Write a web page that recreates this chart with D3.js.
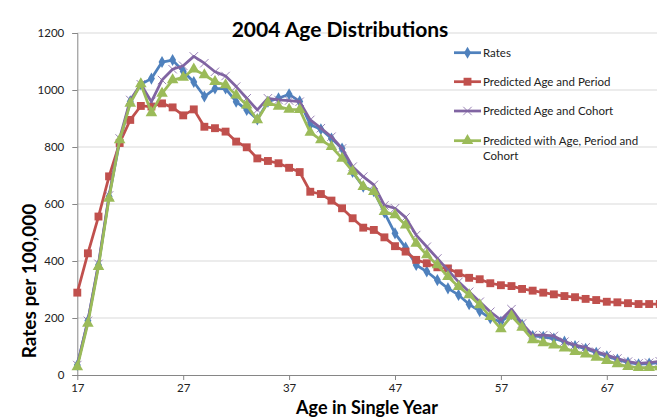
<!DOCTYPE html>
<html>
<head>
<meta charset="utf-8">
<script src="https://cdn.jsdelivr.net/npm/d3@7"></script>
<style>
  html, body { margin: 0; padding: 0; background: #fff; }
  svg { display: block; font-family: Lato, "Open Sans", sans-serif; }
</style>
</head>
<body>
<svg id="chart" width="657" height="419"></svg>
<script>
// Ages shown on the category axis
const ages = d3.range(17, 73);
const tickAges = [17, 27, 37, 47, 57, 67];
const yTicks = [0, 200, 400, 600, 800, 1000, 1200];

// Observed and predicted rates per 100,000 by single year of age
const rates = [35, 190, 386, 626, 819, 960, 1020, 1040, 1098, 1105, 1066, 1028, 977, 1005, 1005, 959, 930, 897, 959, 971,
  985, 960, 878, 862, 830, 795, 712, 661, 645, 570, 497, 447, 386, 363, 333, 304, 281, 248, 224, 199,
  187, 214, 176, 137, 134, 128, 117, 102, 92, 78, 66, 54, 44, 38, 40, 44];
const predAgePeriod = [289, 427, 556, 697, 814, 895, 944, 942, 953, 939, 911, 932, 871, 866, 854, 819, 799, 760, 751, 743,
  727, 712, 643, 635, 612, 585, 550, 517, 509, 483, 452, 433, 404, 392, 378, 374, 357, 341, 336, 322,
  315, 312, 302, 296, 289, 283, 277, 273, 267, 263, 257, 255, 252, 249, 249, 249];
const predAgeCohort = [35, 190, 390, 630, 830, 965, 1020, 959, 1035, 1073, 1085, 1118, 1094, 1064, 1049, 1012, 971, 930, 971, 965,
  963, 959, 895, 866, 836, 795, 731, 696, 667, 595, 585, 553, 491, 450, 409, 368, 327, 292, 257, 222,
  193, 231, 181, 140, 140, 137, 117, 105, 97, 82, 70, 58, 47, 41, 43, 48];
const predAPC = [28, 181, 380, 620, 825, 953, 1021, 920, 988, 1035, 1044, 1073, 1053, 1029, 1018, 982, 947, 895, 956, 942,
  932, 931, 851, 825, 801, 760, 714, 661, 643, 573, 562, 526, 462, 421, 386, 345, 310, 281, 246, 205,
  162, 207, 167, 123, 113, 105, 94, 82, 73, 62, 50, 39, 29, 26, 26, 28];

const seriesNames = ["Rates", "Predicted Age and Period", "Predicted Age and Cohort", "Predicted with Age, Period and Cohort"];
const seriesColors = ["#4F81BD", "#C0504D", "#8064A2", "#9BBB59"];

const series = [
  { name: seriesNames[0], values: rates, color: seriesColors[0], marker: "diamond" },
  { name: seriesNames[1], values: predAgePeriod, color: seriesColors[1], marker: "square" },
  { name: seriesNames[2], values: predAgeCohort, color: seriesColors[2], marker: "times" },
  { name: seriesNames[3], values: predAPC, color: seriesColors[3], marker: "triangle" }
];

const svg = d3.select("#chart");
const step = 10.59;
const x0 = 77.3;
const x = d3.scaleLinear().domain([17, 73]).range([x0, x0 + 56 * step]);
const y = d3.scaleLinear().domain([0, 1200]).range([375, 33]);

// Horizontal gridlines
svg.append("g")
  .selectAll("line")
  .data(yTicks.filter(d => d > 0))
  .join("line")
  .attr("x1", x0).attr("x2", 700)
  .attr("y1", d => y(d)).attr("y2", d => y(d))
  .attr("stroke", "#d9d9d9").attr("stroke-width", 1);

// Y axis
const yAxis = svg.append("g")
  .attr("transform", `translate(${x0},0)`)
  .call(d3.axisLeft(y).tickValues(yTicks).tickFormat(d3.format("d")).tickSize(5).tickPadding(8));
yAxis.select(".domain").attr("stroke", "#868686");
yAxis.selectAll(".tick line").attr("stroke", "#868686");
yAxis.selectAll(".tick text").attr("font-size", 11.5).attr("fill", "#222").attr("font-family", "Lato, sans-serif");

// X axis
const xAxis = svg.append("g")
  .attr("transform", `translate(0,${y(0)})`)
  .call(d3.axisBottom(x).tickValues(tickAges).tickFormat(d3.format("d")).tickSize(5).tickPadding(4).tickSizeOuter(0));
xAxis.select(".domain").attr("stroke", "#868686").attr("d", `M${x0},0.5H700`);
xAxis.selectAll(".tick line").attr("stroke", "#868686");
xAxis.selectAll(".tick text").attr("font-size", 11.5).attr("fill", "#222").attr("font-family", "Lato, sans-serif");

// Marker shapes
const markerPath = {
  diamond: d3.symbol().type(d3.symbolDiamond).size(42)(),
  square: d3.symbol().type(d3.symbolSquare).size(62)(),
  times: d3.symbol().type(d3.symbolTimes).size(48)(),
  triangle: d3.symbol().type(d3.symbolTriangle).size(58)()
};

function drawMarkers(g, s, pts) {
  const m = g.selectAll("path.m")
    .data(pts)
    .join("path")
    .attr("class", "m")
    .attr("d", markerPath[s.marker])
    .attr("transform", d => `translate(${d[0]},${d[1]})`);
  if (s.marker === "times") {
    m.attr("fill", "none").attr("stroke", s.color).attr("stroke-width", 1).attr("stroke-opacity", 0.8);
  } else {
    m.attr("fill", s.color).attr("stroke", "none");
  }
}

const line = d3.line().x(d => d[0]).y(d => d[1]);
const plot = svg.append("g");

series.forEach(s => {
  const pts = ages.map((a, i) => [x(a), y(s.values[i])]);
  const g = plot.append("g");
  g.append("path")
    .attr("d", line(pts))
    .attr("fill", "none")
    .attr("stroke", s.color)
    .attr("stroke-width", 2.75)
    .attr("stroke-linejoin", "round");
  drawMarkers(g, s, pts);
});

// Title
svg.append("text")
  .attr("x", 340).attr("y", 37)
  .attr("text-anchor", "middle")
  .attr("font-size", 21).attr("font-weight", "bold").attr("fill", "#000")
  .text("2004 Age Distributions");

// Axis titles
svg.append("text")
  .attr("transform", "translate(36,281) rotate(-90)")
  .attr("text-anchor", "middle")
  .attr("font-size", 19).attr("font-weight", "bold").attr("fill", "#000")
  .text("Rates per 100,000");

svg.append("text")
  .attr("x", 367).attr("y", 414)
  .attr("text-anchor", "middle")
  .attr("font-size", 18).attr("font-weight", "bold").attr("fill", "#000")
  .text("Age in Single Year");

// Legend
const legendRows = [52.7, 81.7, 111, 140.7];
const legend = svg.append("g");
series.forEach((s, i) => {
  const ly = legendRows[i];
  const g = legend.append("g");
  g.append("line")
    .attr("x1", 454).attr("x2", 481)
    .attr("y1", ly).attr("y2", ly)
    .attr("stroke", s.color).attr("stroke-width", 2.75);
  drawMarkers(g, s, [[467.5, ly]]);
  const t = g.append("text")
    .attr("x", 483).attr("y", ly + 4)
    .attr("font-size", 11.5).attr("fill", "#222");
  if (i === 3) {
    t.append("tspan").attr("x", 483).text("Predicted with Age, Period and");
    t.append("tspan").attr("x", 483).attr("dy", 15).text("Cohort");
  } else {
    t.text(s.name);
  }
});
</script>
</body>
</html>
